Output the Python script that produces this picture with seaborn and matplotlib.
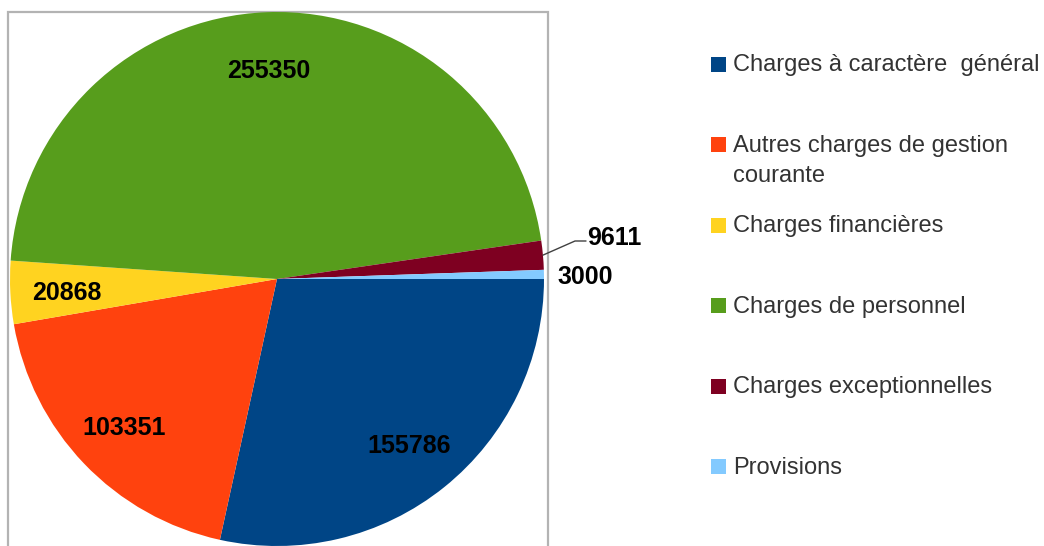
import numpy as np
import matplotlib
matplotlib.use("Agg")
import matplotlib.pyplot as plt
import matplotlib.patches as mpatches
import seaborn as sns

# Data
categories = ["Charges à caractère  général",
              "Autres charges de gestion\ncourante",
              "Charges financières",
              "Charges de personnel",
              "Charges exceptionnelles",
              "Provisions"]
values = [155786, 103351, 20868, 255350, 9611, 3000]
colors = ["#004586", "#FF420E", "#FFD320", "#579D1C", "#7E0021", "#83CAFF"]

sns.set_style("white")
plt.rcParams["font.family"] = ["Liberation Sans", "DejaVu Sans"]
palette = sns.color_palette(colors)

W, H = 1044, 546
fig = plt.figure(figsize=(W / 100, H / 100), dpi=100)
ax = fig.add_axes([0, 0, 1, 1])

cx, cy, R = 277, H - 279, 267

# plot-area border (bottom edge runs off the image)
ax.add_patch(mpatches.Rectangle((8, -20), 540, H - 12 + 20, fill=False,
                                edgecolor="#b3b3b3", lw=1.6, zorder=0))

wedges, _ = ax.pie(values, colors=palette, startangle=0, counterclock=False,
                   center=(cx, cy), radius=R, frame=True,
                   wedgeprops=dict(linewidth=0))
ax.set_xlim(0, W)
ax.set_ylim(0, H)
ax.set_aspect("equal")
ax.axis("off")

lab_kw = dict(fontsize=18, fontweight="bold", color="black")
for w, v in zip(wedges, values):
    mid = np.deg2rad((w.theta1 + w.theta2) / 2)
    if v > 15000:
        r = 0.79 * R
        ax.text(cx + r * np.cos(mid), cy + r * np.sin(mid) - 3, str(v),
                ha="center", va="center", **lab_kw)

# small slices: outside labels
mid = np.deg2rad((wedges[4].theta1 + wedges[4].theta2) / 2)
x0, y0 = cx + R * np.cos(mid), cy + R * np.sin(mid)
ax.plot([x0, 575, 586], [y0, H - 241, H - 241], color="#404040", lw=1)
ax.text(587, H - 238, str(values[4]), ha="left", va="center", **lab_kw)
ax.text(557, H - 277, str(values[5]), ha="left", va="center", **lab_kw)

# legend
for i, (lab, col) in enumerate(zip(categories, palette)):
    yc = H - (64.5 + i * 80.4)
    ax.add_patch(mpatches.Rectangle((711, yc - 7.5), 15, 15, color=col, lw=0))
    ax.text(733, yc + 10, lab, ha="left", va="top", fontsize=17,
            color="#333333", linespacing=1.5)

fig.savefig("out.png", dpi=100)
